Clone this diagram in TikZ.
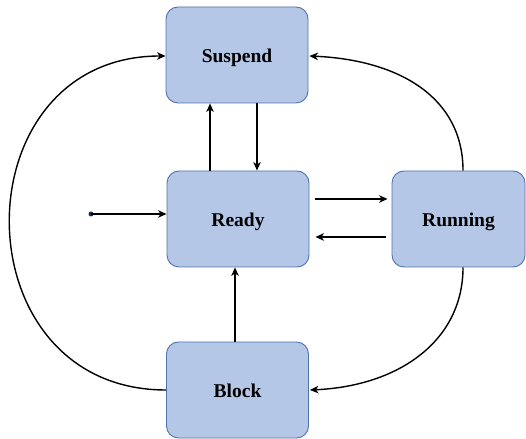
\documentclass[tikz,border=0pt]{standalone}
\usepackage{fontspec}
\setmainfont{Liberation Serif}
\usetikzlibrary{arrows.meta,calc}
\definecolor{boxfill}{HTML}{B4C7E7}
\definecolor{boxline}{HTML}{5073B0}
\definecolor{dotcol}{HTML}{1F3050}
\tikzset{
  state/.style={draw=boxline, fill=boxfill, line width=0.9pt, rounded corners=12pt,
    minimum width=142pt, minimum height=96pt, inner sep=0pt,
    text height=18pt, text depth=3pt,
    font=\fontsize{19.5}{22}\selectfont\bfseries},
  link/.style={line width=1.4pt, -{Stealth[length=8.5pt,width=7.5pt,inset=2.5pt]}},
}
\begin{document}
\begin{tikzpicture}[x=1pt,y=1pt]
  \useasboundingbox (0,0) rectangle (526,438);

  % process states
  \node[state] (suspend) at (237,383) {Suspend};
  \node[state] (ready)   at (238,219) {Ready};
  \node[state, minimum width=133pt] (running) at (458.5,219) {Running};
  \node[state] (block)   at (237.5,48) {Block};

  % entry point
  \fill[dotcol] (91,224) circle (2.5pt) coordinate (start);
  \draw[link] (start) -- (ready.west |- start);

  % Ready <-> Suspend
  \draw[link] ([xshift=-28pt]ready.north) -- ([xshift=-27pt]suspend.south);
  \draw[link] ([xshift=20pt]suspend.south) -- ([xshift=19pt]ready.north);

  % Ready <-> Running
  \draw[link] ($(ready.east)+(6,20)$) -- ($(running.west)+(-4,20)$);
  \draw[link] ($(running.west)+(-6,-18)$) -- ($(ready.east)+(6,-18)$);

  % Block -> Ready
  \draw[link] ([xshift=-2.5pt]block.north) -- ([xshift=-3pt]ready.south);

  % Block -> Suspend (outer left arc)
  \draw[link] (block.west) .. controls (-42,48) and (-42,382) .. ($(suspend.west)+(0,-1)$);

  % Running -> Suspend
  \draw[link] ([xshift=4.5pt]running.north) .. controls (463,340) and (400,378) .. ($(suspend.east)+(1,-1)$);

  % Running -> Block
  \draw[link] ([xshift=4.5pt]running.south) .. controls (463,98) and (400,52) .. ($(block.east)+(1,0)$);
\end{tikzpicture}
\end{document}
